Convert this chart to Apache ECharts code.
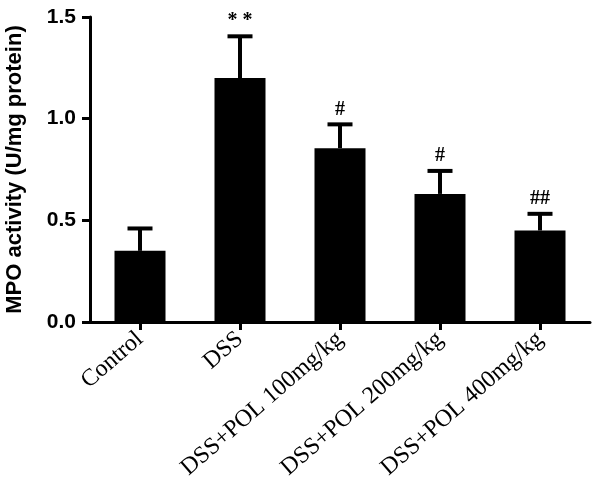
<!DOCTYPE html>
<html>
<head>
<meta charset="utf-8">
<script src="https://cdn.jsdelivr.net/npm/echarts@6/dist/echarts.min.js"></script>
<style>html,body{margin:0;padding:0;background:#fff}#c{width:600px;height:490px}</style>
</head>
<body>
<div id="c"></div>
<script>
const categories = ['Control', 'DSS', 'DSS+POL 100mg/kg', 'DSS+POL 200mg/kg', 'DSS+POL 400mg/kg'];
const means = [0.35, 1.20, 0.855, 0.63, 0.45];
const sems = [0.11, 0.205, 0.117, 0.113, 0.082];
const marks = ['', '* *', '#', '#', '##'];
const yTicks = [0, 0.5, 1.0, 1.5];

const chart = echarts.init(document.getElementById('c'), null, {renderer: 'canvas'});
const errData = means.map((m, i) => [i, m, m + sems[i]]);

chart.setOption({
  animation: false,
  backgroundColor: '#fff',
  grid: {left: 90, right: 10, top: 17, bottom: 168, containLabel: false, outerBoundsMode: 'none'},
  xAxis: {
    type: 'category',
    data: categories,
    axisLine: {lineStyle: {color: '#000', width: 3}},
    axisTick: {show: true, alignWithLabel: true, length: 8, lineStyle: {color: '#000', width: 3}},
    axisLabel: {rotate: 41, interval: 0, margin: 14, color: '#000', fontFamily: 'Liberation Serif', fontSize: 24}
  },
  yAxis: {
    type: 'value',
    min: 0, max: 1.5, interval: 0.5,
    name: 'MPO activity (U/mg protein)',
    nameLocation: 'middle',
    nameRotate: 90,
    nameGap: 64,
    nameTextStyle: {color: '#000', fontFamily: 'Liberation Sans', fontWeight: 'bold', fontSize: 22},
    axisLine: {show: true, lineStyle: {color: '#000', width: 3}},
    axisTick: {show: true, length: 8, lineStyle: {color: '#000', width: 3}},
    splitLine: {show: false},
    axisLabel: {
      margin: 14, color: '#000', fontFamily: 'Liberation Sans', fontWeight: 'bold', fontSize: 21,
      formatter: v => yTicks.includes(v) ? v.toFixed(1) : ''
    }
  },
  series: [
    {
      type: 'bar',
      data: means,
      barWidth: 51,
      itemStyle: {color: '#000'},
      z: 2
    },
    {
      type: 'custom',
      data: errData,
      z: 3,
      renderItem: function (params, api) {
        const x = api.coord([api.value(0), 0])[0];
        const yb = api.coord([0, api.value(1)])[1];
        const yt = api.coord([0, api.value(2)])[1];
        const mark = marks[params.dataIndex];
        const capW = 25;
        const children = [
          {type: 'line', shape: {x1: x, y1: yb, x2: x, y2: yt}, style: {stroke: '#000', lineWidth: 4}},
          {type: 'line', shape: {x1: x - capW / 2, y1: yt, x2: x + capW / 2, y2: yt}, style: {stroke: '#000', lineWidth: 4}}
        ];
        if (mark) {
          children.push({
            type: 'text',
            style: {
              text: mark, x: x, y: yt - 5,
              align: 'center', verticalAlign: 'bottom',
              fill: '#000', font: 'bold 20px "Liberation Serif"'
            }
          });
        }
        return {type: 'group', children: children};
      }
    }
  ]
});
</script>
</body>
</html>
